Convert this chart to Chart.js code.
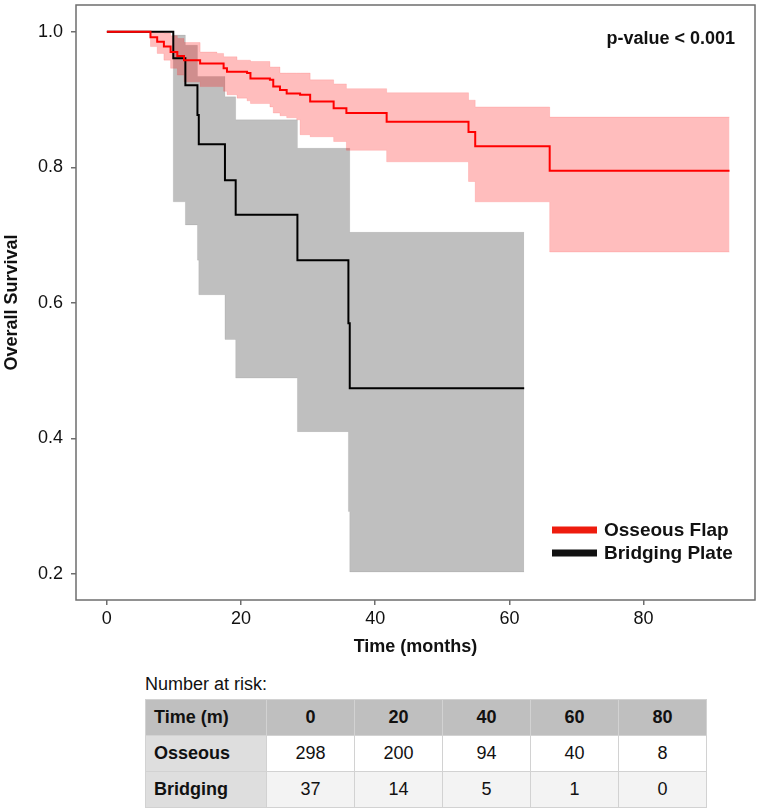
<!DOCTYPE html>
<html>
<head>
<meta charset="utf-8">
<script src="https://cdn.jsdelivr.net/npm/chart.js@4.4.1/dist/chart.umd.min.js"></script>
<style>
  body { margin: 0; background: #fff; font-family: "Liberation Sans", Arial, sans-serif; color: #111; }
  #contenedor { position: relative; width: 762px; height: 809px; overflow: hidden; }
  #grafico { position: absolute; left: 0; top: 0; }
  #riesgo { position: absolute; left: 145px; top: 672px; }
  #riesgo .titulo { font-size: 18px; height: 27px; line-height: 24px; }
  #tabla-riesgo { border-collapse: collapse; table-layout: fixed; width: 560px; font-size: 18px; }
  #tabla-riesgo th, #tabla-riesgo td { height: 35px; padding: 0; border: 1px solid #d2d2d2; width: 87px; }
  #tabla-riesgo tr.cabecera th { background: #bfbfbf; text-align: center; }
  #tabla-riesgo th.fila { background: #dedede; text-align: left; padding-left: 8px; width: 112px; }
  #tabla-riesgo tr.cabecera th.fila { background: #bfbfbf; text-align: left; }
  #tabla-riesgo td { text-align: center; background: #fff; font-weight: normal; }
  #tabla-riesgo tr.ultima td { background: #f3f3f3; }
</style>
</head>
<body>
<div id="contenedor">
  <canvas id="grafico" width="762" height="665"></canvas>
  <div id="riesgo">
    <div class="titulo">Number at risk:</div>
    <table id="tabla-riesgo"></table>
  </div>
</div>
<script>
//DATOS - colgajo oseo (rojo)
const tiemposOseo = [0, 6.5, 7.5, 8.5, 9.5, 10.5, 11.5, 13.9, 16.4, 17.4, 17.9, 19.4, 20.9, 21.4, 24.3, 24.8, 25.8, 26.8, 28.3, 28.8, 30.3, 33.8, 35.7, 41.7, 53.9, 54.9, 66.0, 92.8];
const supervivenciaOseo = [1.0, 0.992, 0.985, 0.978, 0.970, 0.964, 0.958, 0.953, 0.953, 0.946, 0.941, 0.941, 0.939, 0.931, 0.929, 0.919, 0.914, 0.909, 0.909, 0.907, 0.897, 0.887, 0.880, 0.867, 0.852, 0.831, 0.795, 0.795];
const inferiorOseo = [1.0, 0.978, 0.968, 0.958, 0.946, 0.936, 0.926, 0.919, 0.919, 0.912, 0.907, 0.902, 0.898, 0.894, 0.889, 0.880, 0.876, 0.873, 0.870, 0.848, 0.845, 0.838, 0.825, 0.808, 0.779, 0.749, 0.675, 0.675];
const superiorOseo = [1.0, 1.0, 1.0, 0.998, 0.994, 0.990, 0.984, 0.970, 0.968, 0.963, 0.963, 0.958, 0.958, 0.956, 0.948, 0.948, 0.939, 0.939, 0.939, 0.939, 0.929, 0.923, 0.916, 0.910, 0.899, 0.889, 0.874, 0.874];

//DATOS - placa puente (negro)
const tiemposPlaca = [0, 9.9, 11.7, 13.5, 13.7, 17.6, 19.2, 28.4, 36.0, 36.2, 62.2];
const supervivenciaPlaca = [1.0, 0.961, 0.921, 0.877, 0.834, 0.781, 0.730, 0.663, 0.570, 0.474, 0.474];
const inferiorPlaca = [1.0, 0.749, 0.715, 0.663, 0.612, 0.546, 0.489, 0.410, 0.292, 0.203, 0.203];
const superiorPlaca = [1.0, 0.995, 0.980, 0.934, 0.934, 0.904, 0.870, 0.828, 0.828, 0.704, 0.704];

const etiquetas = ["Osseous Flap", "Bridging Plate"];
const textoP = "p-value < 0.001";

//NUMERO EN RIESGO
const tiemposRiesgo = [0, 20, 40, 60, 80];
const riesgoOseo = [298, 200, 94, 40, 8];
const riesgoPlaca = [37, 14, 5, 1, 0];

const fuente = '"Liberation Sans", Arial, sans-serif';
const gris = "#6e6e6e";

function puntos(tiempos, valores){
  return tiempos.map((t, i) => ({ x: t, y: valores[i] }));
}

function serie(tiempos, valores, extra){
  return {
    data: puntos(tiempos, valores),
    stepped: true,
    pointRadius: 0,
    fill: false,
    ...extra
  };
}

//marco, p-value y leyenda
const extras = {
  id: "extras",
  afterDraw(chart){
    const { ctx, chartArea: { left, top, right, bottom } } = chart;
    ctx.save();
    ctx.strokeStyle = gris;
    ctx.lineWidth = 1.5;
    ctx.strokeRect(left, top, right - left, bottom - top);

    ctx.fillStyle = "#111";
    ctx.font = "bold 18px " + fuente;
    ctx.textAlign = "right";
    ctx.textBaseline = "middle";
    ctx.fillText(textoP, right - 20, top + 34);

    const colores = ["#ee1c0e", "#111111"];
    ctx.textAlign = "left";
    ctx.font = "bold 19px " + fuente;
    etiquetas.forEach((etiqueta, i) => {
      const y = bottom - 70 + i * 23;
      ctx.fillStyle = colores[i];
      ctx.fillRect(right - 203, y - 3.5, 45, 7);
      ctx.fillStyle = "#111";
      ctx.fillText(etiqueta, right - 151, y + 1);
    });
    ctx.restore();
  }
};

let grafica = document.getElementById("grafico").getContext("2d");

var chart = new Chart(grafica, {
  type: "line",
  data: {
    datasets: [
      serie(tiemposOseo, supervivenciaOseo, { label: etiquetas[0], borderColor: "#ff0000", borderWidth: 2, order: 0 }),
      serie(tiemposPlaca, supervivenciaPlaca, { label: etiquetas[1], borderColor: "#000000", borderWidth: 2, order: 1 }),
      serie(tiemposOseo, inferiorOseo, { borderColor: "rgba(255,0,0,0.12)", borderWidth: 1, order: 2 }),
      serie(tiemposOseo, superiorOseo, { borderColor: "rgba(255,0,0,0.12)", borderWidth: 1, order: 2, fill: 2, backgroundColor: "rgba(255,0,0,0.26)" }),
      serie(tiemposPlaca, inferiorPlaca, { borderColor: "rgba(0,0,0,0.08)", borderWidth: 1, order: 3 }),
      serie(tiemposPlaca, superiorPlaca, { borderColor: "rgba(0,0,0,0.08)", borderWidth: 1, order: 3, fill: 4, backgroundColor: "rgba(0,0,0,0.25)" })
    ]
  },
  options: {
    responsive: false,
    animation: false,
    events: [],
    layout: { padding: { left: 0, right: 7, top: 5, bottom: 0 } },
    plugins: {
      legend: { display: false },
      tooltip: { enabled: false },
      filler: { propagate: false }
    },
    scales: {
      x: {
        type: "linear",
        min: -4.6,
        max: 96.6,
        border: { display: false },
        grid: { drawOnChartArea: false, drawTicks: true, tickLength: 5, color: gris, lineWidth: 1.5 },
        ticks: { stepSize: 20, includeBounds: false, padding: 3, color: "#111", font: { family: fuente, size: 18 } },
        title: { display: true, text: "Time (months)", color: "#111", font: { family: fuente, size: 18, weight: "bold" }, padding: { top: 0, bottom: 7 } },
        afterFit(escala){ escala.height = 65; }
      },
      y: {
        type: "linear",
        min: 0.1616,
        max: 1.0394,
        border: { display: false },
        grid: { drawOnChartArea: false, drawTicks: true, tickLength: 5, color: gris, lineWidth: 1.5 },
        ticks: {
          stepSize: 0.2, includeBounds: false, padding: 8, color: "#111", font: { family: fuente, size: 18 },
          callback: (v) => v.toFixed(1)
        },
        title: { display: true, text: "Overall Survival", color: "#111", font: { family: fuente, size: 18, weight: "bold" }, padding: { top: 1, bottom: 0 } },
        afterFit(escala){
          escala.width = 76;
          escala.paddingTop = 0;
          escala.paddingBottom = 0;
        }
      }
    }
  },
  plugins: [extras]
});

//tabla de numero en riesgo
function generarTabla(){
  const tabla = document.querySelector("#tabla-riesgo");
  let nuevoHTML = `<tr class="cabecera"><th class="fila">Time (m)</th>${tiemposRiesgo.map(t => `<th>${t}</th>`).join("")}</tr>`;
  nuevoHTML += `<tr><th class="fila">Osseous</th>${riesgoOseo.map(n => `<td>${n}</td>`).join("")}</tr>`;
  nuevoHTML += `<tr class="ultima"><th class="fila">Bridging</th>${riesgoPlaca.map(n => `<td>${n}</td>`).join("")}</tr>`;
  tabla.insertAdjacentHTML("beforeend", nuevoHTML);
}

generarTabla();
</script>
</body>
</html>
